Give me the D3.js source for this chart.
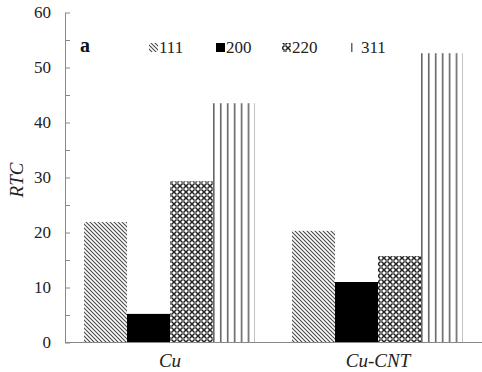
<!DOCTYPE html>
<html>
<head>
<meta charset="utf-8">
<script src="https://cdn.jsdelivr.net/npm/d3@7"></script>
<style>
  html, body { margin: 0; padding: 0; background: #fff; }
  svg, svg text { font-family: "Times New Roman", "Liberation Serif", Tinos, serif !important; }
  svg { display: block; }
</style>
</head>
<body>
<svg id="chart" width="482" height="372"></svg>
<script>
const categories = ["Cu", "Cu-CNT"];
const seriesNames = ["111", "200", "220", "311"];
const v111 = [21.9, 20.3];
const v200 = [5.2, 11.0];
const v220 = [29.3, 15.7];
const v311 = [43.5, 52.6];
const yTicks = [0, 5, 10, 15, 20, 25, 30, 35, 40, 45, 50, 55, 60];
const seriesValues = [v111, v200, v220, v311];

(function () {
const svg = d3.select("#chart");
const mLeft = 65, mBottom = 342.5, mTop = 12.5, mRight = 482;

const y = d3.scaleLinear().domain([0, 60]).range([mBottom, mTop]);
const x0 = d3.scaleBand().domain(categories).range([66, mRight])
  .paddingInner(0.173).paddingOuter(0.0865);
const x1 = d3.scaleBand().domain(seriesNames).range([0, x0.bandwidth()]);

// patterns
const defs = svg.append("defs");
const p111 = defs.append("pattern").attr("id", "p111")
  .attr("patternUnits", "userSpaceOnUse").attr("width", 4).attr("height", 4);
p111.append("rect").attr("width", 4).attr("height", 4).attr("fill", "#fff");
p111.append("path").attr("d", "M-1,-1 L5,5 M-1,3 L1,5 M3,-1 L5,1")
  .attr("stroke", "#444").attr("stroke-width", 1.05);

const p220 = defs.append("pattern").attr("id", "p220")
  .attr("patternUnits", "userSpaceOnUse").attr("width", 6).attr("height", 6);
p220.append("rect").attr("width", 6).attr("height", 6).attr("fill", "#fff");
p220.append("path").attr("d", "M0,0 L6,6 M6,0 L0,6")
  .attr("stroke", "#222").attr("stroke-width", 1.5);
p220.append("circle").attr("cx", 3).attr("cy", 3).attr("r", 0.7).attr("fill", "#fff");

const bar311x = x0(categories[0]) + x1("311");
const step311 = (x0(categories[1]) - x0(categories[0])) / 30;
const p311 = defs.append("pattern").attr("id", "p311")
  .attr("patternUnits", "userSpaceOnUse").attr("x", bar311x).attr("y", 0)
  .attr("width", step311).attr("height", 10);
p311.append("rect").attr("width", step311).attr("height", 10).attr("fill", "#fff");
p311.append("rect").attr("x", 0).attr("width", 1.6).attr("height", 10).attr("fill", "#666");

const fills = { "111": "url(#p111)", "200": "#000", "220": "url(#p220)", "311": "url(#p311)" };

// bars
categories.forEach((c, ci) => {
  seriesNames.forEach((s, si) => {
    const v = seriesValues[si][ci];
    svg.append("rect")
      .attr("x", x0(c) + x1(s))
      .attr("y", y(v))
      .attr("width", s === "311" ? x1.bandwidth() - 1 : x1.bandwidth())
      .attr("height", y(0) - y(v))
      .attr("fill", fills[s]);
  });
});

// y axis
const yAxis = d3.axisLeft(y).tickValues(yTicks).tickSizeInner(-5).tickSizeOuter(0)
  .tickPadding(14).tickFormat(d => d % 10 === 0 ? d : "");
const gy = svg.append("g").attr("transform", `translate(${mLeft},0)`).call(yAxis);
gy.attr("font-family", null);
gy.select(".domain").attr("stroke", "#888");
gy.selectAll(".tick line").attr("stroke", "#888");
gy.selectAll(".tick text").attr("font-size", 17).attr("fill", "#222");

// x axis
const xAxis = d3.axisBottom(x0).tickSize(0).tickPadding(11.5);
const gx = svg.append("g").attr("transform", `translate(0,${mBottom})`).call(xAxis);
gx.attr("font-family", null);
gx.select(".domain").attr("stroke", "#888").attr("d", `M${mLeft},0H${mRight}`);
gx.selectAll(".tick text").attr("font-size", 19).attr("font-style", "italic")
  .attr("fill", "#222");

// y label
svg.append("text").attr("transform", "translate(23,180) rotate(-90)")
  .attr("text-anchor", "middle").attr("font-style", "italic").attr("font-size", 19)
  .attr("fill", "#222").text("RTC");

// panel label
svg.append("text").attr("x", 80).attr("y", 52).attr("font-weight", "bold")
  .attr("font-size", 20).attr("fill", "#111").text("a");

// legend
const legendX = { "111": 149, "200": 216, "220": 282, "311": 350 };
seriesNames.forEach(s => {
  const lx = legendX[s];
  if (s === "311") {
    svg.append("rect").attr("x", lx + 1).attr("y", 43).attr("width", 1.5).attr("height", 9).attr("fill", "#666");
    svg.append("text").attr("x", lx + 11).attr("y", 53).attr("font-size", 17).attr("fill", "#222").text(s);
  } else {
    svg.append("rect").attr("x", lx).attr("y", 43).attr("width", 9).attr("height", 9).attr("fill", fills[s]);
    svg.append("text").attr("x", lx + 10).attr("y", 53).attr("font-size", 17).attr("fill", "#222").text(s);
  }
});
})();
</script>
</body>
</html>
